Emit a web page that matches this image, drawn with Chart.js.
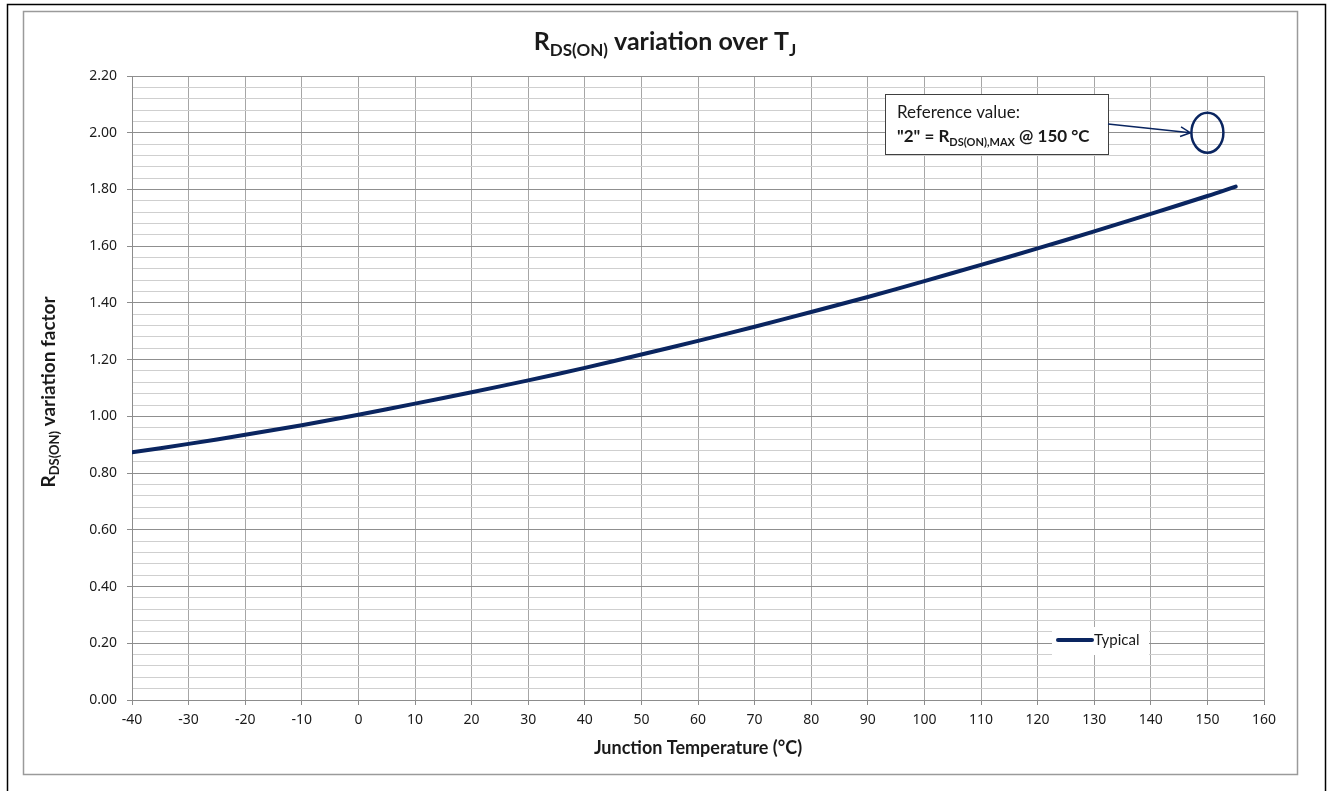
<!DOCTYPE html>
<html>
<head>
<meta charset="utf-8">
<title>RDS(ON) variation over TJ</title>
<script src="https://cdn.jsdelivr.net/npm/chart.js@4.4.1/dist/chart.umd.min.js"></script>
<style>
  html, body { margin: 0; padding: 0; background: #fff; }
  canvas { display: block; }
</style>
</head>
<body>
<canvas id="rdsChart" width="1332" height="791"></canvas>
<script>
// Junction temperature (°C) and typical RDS(ON) variation factor
const tempC = [-40, -30, -20, -10, 0, 10, 20, 30, 40, 50, 60, 70, 80, 90, 100, 110, 120, 130, 140, 150, 155];
const typical = [0.873, 0.903, 0.935, 0.969, 1.006, 1.045, 1.085, 1.127, 1.171, 1.218, 1.266, 1.316, 1.368, 1.421, 1.477, 1.534, 1.592, 1.652, 1.714, 1.777, 1.810];

// axis ranges / ticks
const xRange = [-40, 160];
const xStep = 10;
const yRange = [0, 2.2];
const yMajor = 0.2;
const yMinor = 0.04;

// reference marker: "2" = RDS(ON),MAX @ 150 °C
const refPoint = { x: 150, y: 2.0 };

const NAVY = '#0a2560';
const TEXT = '#1a1a1a';

function isMajor(v) {
    const r = v / yMajor;
    return Math.abs(r - Math.round(r)) < 1e-6;
}

// text made of normal and subscript parts
function richWidth(ctx, parts, size, weight, family, subScale) {
    let w = 0;
    parts.forEach(p => {
        ctx.font = weight + ' ' + (p.sub ? Math.round(size * subScale) : size) + 'px ' + family;
        w += ctx.measureText(p.t).width;
    });
    return w;
}
function drawRich(ctx, parts, x, y, size, weight, family, align, subScale) {
    subScale = subScale || 0.66;
    const w = richWidth(ctx, parts, size, weight, family, subScale);
    let cx = align === 'center' ? x - w / 2 : x;
    ctx.textAlign = 'left';
    ctx.textBaseline = 'alphabetic';
    parts.forEach(p => {
        ctx.font = weight + ' ' + (p.sub ? Math.round(size * subScale) : size) + 'px ' + family;
        ctx.fillText(p.t, cx, y + (p.sub ? size * 0.22 : 0));
        cx += ctx.measureText(p.t).width;
    });
}

const frames = {
    id: 'frames',
    beforeDraw(chart) {
        const ctx = chart.ctx;
        ctx.save();
        ctx.fillStyle = '#fff';
        ctx.fillRect(0, 0, chart.width, chart.height);
        ctx.strokeStyle = '#000';
        ctx.lineWidth = 1.5;
        ctx.strokeRect(7.5, 4.5, 1318, 800);
        ctx.strokeStyle = '#9a9a9a';
        ctx.lineWidth = 1.5;
        ctx.strokeRect(23.5, 11.5, 1274, 763);
        ctx.restore();
    }
};

const decorations = {
    id: 'decorations',
    afterDraw(chart) {
        const ctx = chart.ctx;
        const xs = chart.scales.x, ys = chart.scales.y;
        const fam = 'Lato, "Noto Sans", sans-serif';
        ctx.save();
        ctx.fillStyle = TEXT;

        // title
        drawRich(ctx, [{ t: 'R' }, { t: 'DS(ON)', sub: true }, { t: ' variation over T' }, { t: 'J', sub: true }],
            665, 50, 25, 'bold', fam, 'center', 0.68);

        // x axis title
        ctx.font = 'bold 18px ' + fam;
        ctx.textAlign = 'center';
        ctx.textBaseline = 'alphabetic';
        ctx.fillText('Junction Temperature (°C)', (xs.left + xs.right) / 2, 754);

        // y axis title (rotated)
        ctx.save();
        ctx.translate(55, 392);
        ctx.rotate(-Math.PI / 2);
        drawRich(ctx, [{ t: 'R' }, { t: 'DS(ON)', sub: true }, { t: ' variation factor' }], 0, 0, 19, 'bold', fam, 'center', 0.7);
        ctx.restore();

        // reference annotation box
        const bx = 885, by = 94, bw = 223, bh = 60;
        ctx.fillStyle = '#fff';
        ctx.fillRect(bx, by, bw, bh);
        ctx.strokeStyle = '#404040';
        ctx.lineWidth = 1;
        ctx.strokeRect(bx + 0.5, by + 0.5, bw, bh);
        ctx.fillStyle = TEXT;
        ctx.font = '17px ' + fam;
        ctx.textAlign = 'left';
        ctx.fillText('Reference value:', 897, 118);
        drawRich(ctx, [{ t: '"2" = R' }, { t: 'DS(ON),MAX', sub: true }, { t: ' @ 150 °C' }], 897, 142, 17, 'bold', fam, 'left');

        // ellipse around reference point and arrow to it
        const px = xs.getPixelForValue(refPoint.x), py = ys.getPixelForValue(refPoint.y);
        ctx.strokeStyle = NAVY;
        ctx.lineWidth = 2.5;
        ctx.beginPath();
        ctx.ellipse(px, py, 16, 20, 0, 0, Math.PI * 2);
        ctx.stroke();
        const ax0 = bx + bw, ay0 = 124, ax1 = px - 17, ay1 = py;
        ctx.lineWidth = 1.5;
        ctx.beginPath();
        ctx.moveTo(ax0, ay0);
        ctx.lineTo(ax1, ay1);
        const ang = Math.atan2(ay1 - ay0, ax1 - ax0);
        ctx.moveTo(ax1 - 11 * Math.cos(ang - 0.45), ay1 - 11 * Math.sin(ang - 0.45));
        ctx.lineTo(ax1, ay1);
        ctx.lineTo(ax1 - 11 * Math.cos(ang + 0.45), ay1 - 11 * Math.sin(ang + 0.45));
        ctx.stroke();

        // legend
        const ds = chart.data.datasets[0];
        ctx.fillStyle = '#fff';
        ctx.fillRect(1052, 627, 97, 28);
        ctx.strokeStyle = ds.borderColor;
        ctx.lineWidth = 4;
        ctx.lineCap = 'round';
        ctx.beginPath();
        ctx.moveTo(1058, 640);
        ctx.lineTo(1092, 640);
        ctx.stroke();
        ctx.fillStyle = TEXT;
        ctx.font = '15px ' + fam;
        ctx.textAlign = 'left';
        ctx.fillText(ds.label, 1094, 645);

        ctx.restore();
    }
};

const ctx = document.getElementById('rdsChart').getContext('2d');
new Chart(ctx, {
    type: 'line',
    data: {
        datasets: [{
            label: 'Typical',
            data: tempC.map((t, i) => ({ x: t, y: typical[i] })),
            borderColor: NAVY,
            borderWidth: 4,
            pointRadius: 0,
            fill: false,
            tension: 0.4,
            borderCapStyle: 'round'
        }]
    },
    options: {
        responsive: false,
        animation: false,
        layout: { padding: { left: 0, top: 76, right: 68, bottom: 0 } },
        plugins: { legend: { display: false }, tooltip: { enabled: false }, title: { display: false } },
        scales: {
            x: {
                type: 'linear',
                min: xRange[0], max: xRange[1],
                afterFit(s) { s.height = 91; },
                border: { color: '#8c8c8c', width: 1 },
                grid: { color: '#a6a6a6', lineWidth: 1, tickLength: 5, tickColor: '#8c8c8c' },
                ticks: {
                    stepSize: xStep, maxTicksLimit: 50, autoSkip: false, maxRotation: 0,
                    padding: 7, color: TEXT,
                    font: { family: '"Noto Sans", sans-serif', size: 14 }
                }
            },
            y: {
                min: yRange[0], max: yRange[1],
                afterFit(s) { s.width = 132; },
                border: { color: '#8c8c8c', width: 1 },
                grid: {
                    lineWidth: 1, tickLength: 5,
                    color: c => isMajor(c.tick.value) ? '#8f8f8f' : '#cfcfcf',
                    tickColor: c => isMajor(c.tick.value) ? '#8c8c8c' : 'rgba(0,0,0,0)'
                },
                ticks: {
                    stepSize: yMinor, maxTicksLimit: 100, autoSkip: false,
                    padding: 10, color: TEXT,
                    font: { family: '"Noto Sans", sans-serif', size: 14 },
                    callback: v => isMajor(v) ? v.toFixed(2) : ''
                }
            }
        }
    },
    plugins: [frames, decorations]
});
</script>
</body>
</html>
